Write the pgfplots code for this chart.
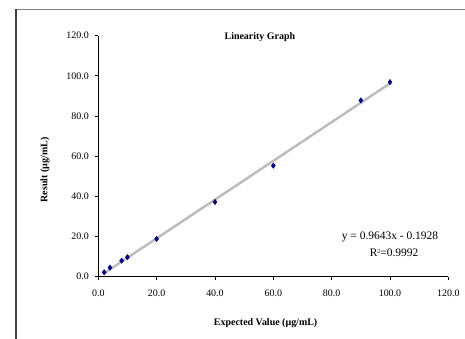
\documentclass[border=0pt]{standalone}
\usepackage{pgfplots}
\pgfplotsset{compat=1.18}
\usepackage{fontspec}
\setmainfont{Liberation Serif}
\definecolor{navymark}{HTML}{000080}
\definecolor{trendgray}{HTML}{BDBDBD}
\definecolor{framegray}{HTML}{808080}
\definecolor{framedark}{HTML}{404040}
\begin{document}
\begin{tikzpicture}[x=1bp,y=1bp]
\useasboundingbox (0,0) rectangle (465,338);
\draw[framegray, line width=1.2bp] (16,328.5) -- (480,328.5);
\draw[framedark, line width=1.2bp] (16,329) -- (16,-10);
\begin{axis}[
  at={(98.3bp,61.3bp)}, anchor=south west,
  scale only axis, width=350bp, height=241bp,
  xmin=0, xmax=120, ymin=0, ymax=120,
  xtick={0,20,...,120}, ytick={0,20,...,120},
  axis x line=bottom, axis y line=left,
  axis line style={-, line width=0.8bp, black},
  tick style={black, line width=0.8bp},
  tick align=outside, major tick length=3.5bp,
  /pgf/number format/assume math mode=true,
  /pgf/number format/.cd, fixed, fixed zerofill, precision=1, /pgfplots/.cd,
  ticklabel style={font=\fontsize{10}{12}\selectfont},
  xticklabel style={yshift=-6.5bp},
  yticklabel style={xshift=-2.5bp},
  xlabel={Expected Value (µg/mL)},
  ylabel={Result (µg/mL)},
  label style={font=\fontsize{10}{12}\selectfont\bfseries},
  xlabel style={at={(axis description cs:0.478,-0.191)}, anchor=center},
  ylabel style={at={(axis description cs:-0.152,0.443)}, anchor=center},
  clip=false,
]
\addplot[trendgray, line width=2.5bp] coordinates {(2,1.7358) (100,96.2372)};
\addplot[only marks, mark=diamond*, mark size=2.7bp, navymark, mark options={fill=navymark, draw=navymark}] coordinates {
(2,2.2) (4,4.5) (8,8.0) (10,9.7) (20,18.8) (40,37.2) (60,55.3) (90,87.8) (100,96.9)
};
\node[font=\fontsize{10}{12}\selectfont\bfseries] at (axis cs:55.4,119.2) {Linearity Graph};
\node[font=\fontsize{11.5}{13}\selectfont] at (axis cs:100.0,19.6) {y = 0.9643x - 0.1928};
\node[font=\fontsize{11.5}{13}\selectfont] at (axis cs:101.4,12.1) {R{\fontsize{6}{7}\selectfont\raisebox{0.9ex}{2}}=0.9992};
\end{axis}
\end{tikzpicture}
\end{document}
